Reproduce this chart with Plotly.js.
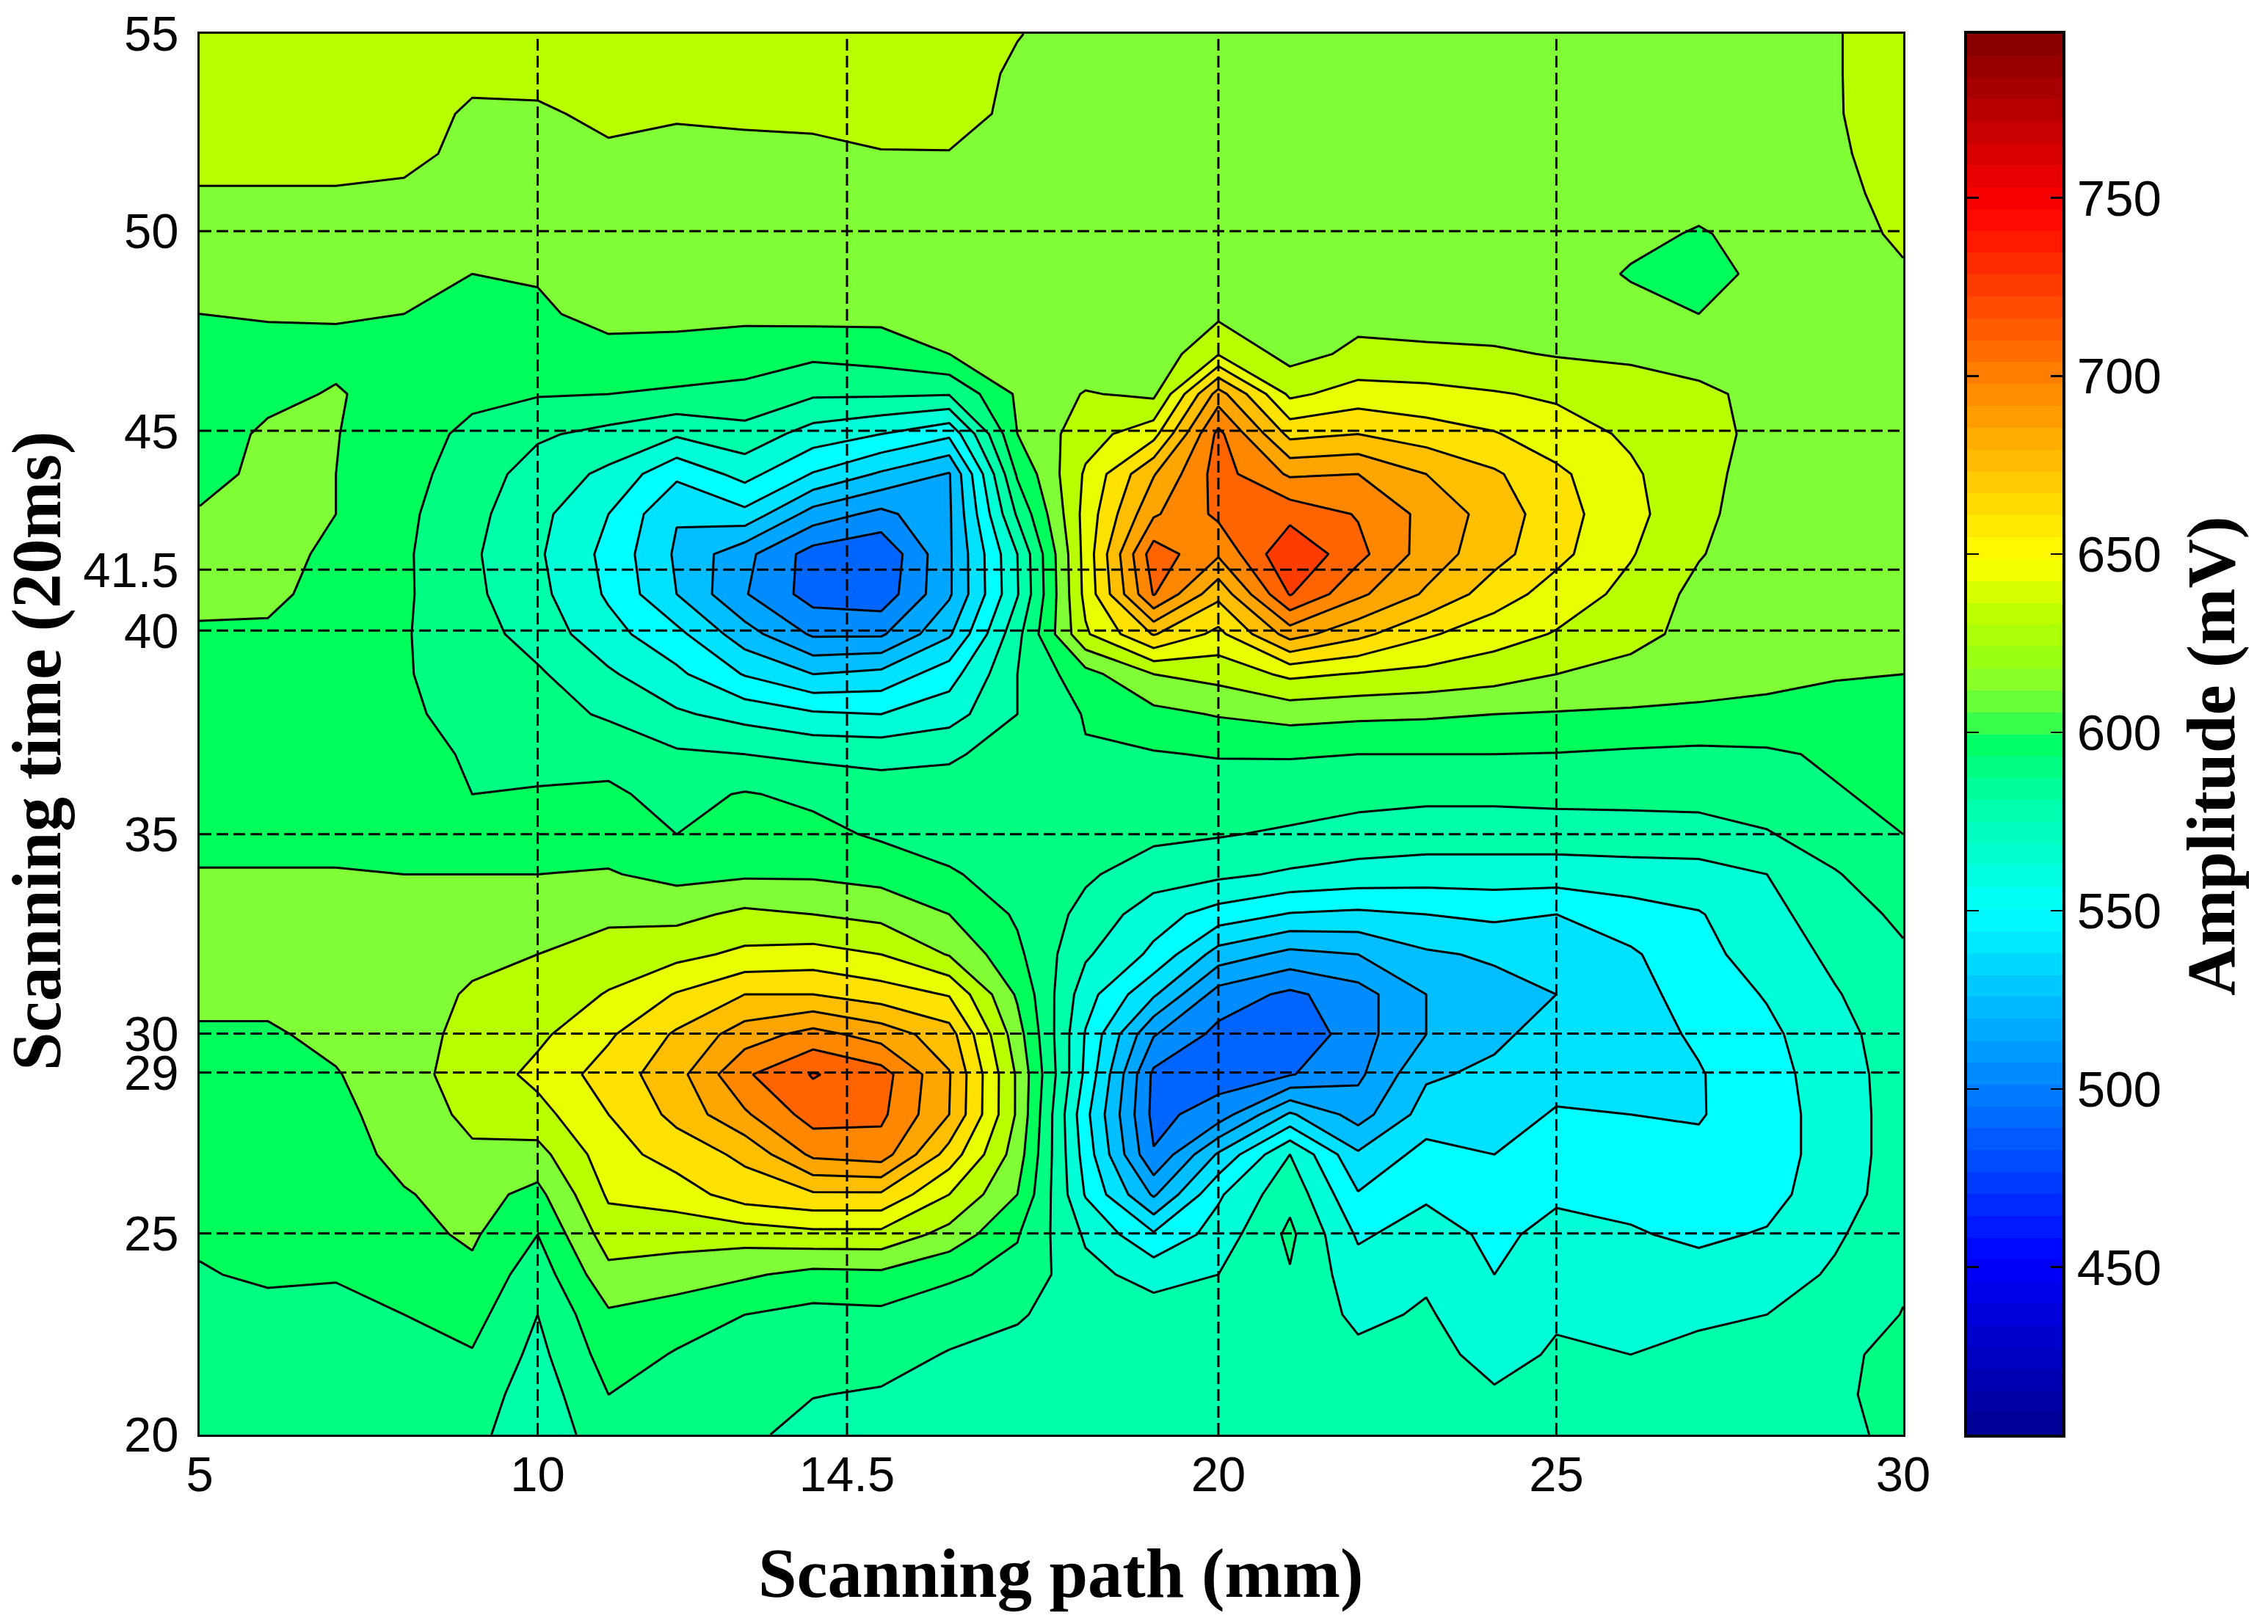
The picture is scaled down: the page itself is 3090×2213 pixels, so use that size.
<!DOCTYPE html>
<html>
<head>
<meta charset="utf-8">
<script src="https://cdn.plot.ly/plotly-3.0.1.min.js"></script>
<style>html,body{margin:0;padding:0;background:#fff}#plot{width:3090px;height:2213px}</style>
</head>
<body>
<div id="plot"></div>
<script>
// Scanning path (mm) and scanning time (20 ms) of the measured grid, as placed on the picture's axes
const scanningPath = [5,6,7,8,9,9.96,11,12,13,14,15,16,17,18,19,19.95,21,22,23,24,24.91,26,27,28,29,30];
const scanningTime = [20,21,22,23,24,25,26,27,28,29,30,31,32,33,34,35,36,37,38,39,40,41,42,43,44,45,46,47,48,49,50,51,52,53,54,55];

// Amplitude (mV): one list per scanning-path position, scanning time ascending
const amplitudeByPath = [
/* 5*/[586,586,588,590,593,596,597,599,601,603,606,612,615,612,609,603,602,602,603,604,606,612,612,609,604,602,601,604,608,611,614,621,626,628,629,630],
/* 6*/[586,586,587,590,596,597,598,600,602,604,606,612,615,613,609,603,601,602,603,604,606,611,613,612,611,610,605,604,609,611,614,621,626,628,629,630],
/* 7*/[585,586,587,590,595,597,600,602,604,607,612,614,615,612,609,603,601,601,601,601,602,603,605,608,608,608.5,609,605,609,611,614,621,626,628,629,630],
/* 8*/[586,588,591,594,600,604,607,612,615,618,618,618,616,612,608,602,598,597,595,595,595,596,596,597,599,600,603,606,608,610,613,620,625,628,629,630],
/* 9*/[585,588,593,599,605,610,613,620,625,627,625,623,620,614,608,600,594,593,592,588,586,583,582,584,587,591,597,601,604,608,611,616,619,620,625,628],
/*10*/[568,572,576,580,586,594,604,617,631,640,633,627,622,615,608,603,595,590,586,582,574,570,568,570,574,582,595,601,606,609,611,615,618,620,626,628],
/*11*/[590,594,600,606,618,629,638,644,650,656,648,637,628,619,609,602,596,590,578,568,557,550,548,552,563,576,594,604,612,611,613,616,620,625,627,629],
/*12*/[586,589,593,600,616,627,643,656,668,673,666,651,632,618,604,594,590,582,568,555,542,524,522,525,541,568,592,603,612,612,614,616,619,623,627,629],
/*13*/[583,586,589,594,610,628,657,667,690,704,685,664,639,625,606,600,595,580,561,537,516,497,500,534,557,575,590,601,611,612,614,616,619,624,627,629],
/*14*/[575,580.5,585,590,604,632,662,695,712,721,697,664,641,622,606,598,591,577,554,524,494,476,476,504,537,560,582,597,613,612,615,617,620,624,628,630],
/*15*/[572,578.5,586,591,605,632,662,699,709,712,686,657,636,618,603,592,586,576,552,528,494,473,470,492,522,552,582,600,612,612,614,616,621.5,626,629,630],
/*16*/[570,574,579,587,596,617,636,658,678,679,670,649,621,608,595,590,586,578,560,546,522,508,508,508,509,541,581,608,612,612,614,616,621.5,627,628,630],
/*17*/[574,575,577,581,590,595,608,615,620,620,614,606,597,592,590,590,589,586,580,580,576,565,566,582,596,608,610,611,611,612,613,614,617,619,620,622.5],
/*18*/[577,577,576,575,570,564,551,546,542,549,551,558,568,576,582,586,590,593,595,603,634,640,641,641,638,630,623,612,610,611,612,613,614,615,616,617],
/*19*/[578,576,574,572,561,540,508,483,478,479,497,526,549,558,573,583,587,593,604,622,665,707,714,690,677,645,619,612,610,612,612,613,614,615,615,616],
/*20*/[574,573,572,570,566,558,550,526,488,476,478,490,518,546,569,581,586,595,609,627,646,668,694,709,712,710,684,635,619,612,612,613,614,615,615,616],
/*21*/[573,574,575,576,579,583,576,566,526,481,470,479,506,537,564,578,587,595,613,639,684,721,733,715,690,660,633,617,612,612,612,613,614,615,615,616],
/*22*/[572,570,569,563,558,550,539,526,504,493,490,490,510,535,561,574,585,594,611,635,668,695,710,705,692,664,642,625,618,613,613,613,614,615,615,616],
/*23*/[572,570,569,567.5,564,558,550,543,530,522,510,510,522,538,559,573,583,594,610,632,652,676,686,688,678,657,640,625,615,613,613,613,614,615,615,615],
/*24*/[570,567,563,557,552,549,545,538,533,527,521,519,526,541,559,573,583,594,608,628,642,657,669,672,666,651,637,624,614,613,613,613,614,614,615,615],
/*25*/[572,569,567,565,560,556,550,544,539,534,530,524,531,538,559,573,584,593.5,607,622,635,644,654,656,653,642,634,621,613,614,613,613,614,614,615,615],
/*26*/[572,570,566,562,557,553,549,544,538,534,532,533,536,546,560,574,584,592,606,618,626,632,637,640,638,634,630,619,612,607,611,613,614,614,615,615],
/*27*/[573,572,569,564,556,550,547,541,537,537,540,544,548,551,561,574,585,591,605,615,618,618,623,626,627,627,625,616,608,601,607,612,614,614,615,615],
/*28*/[576,574,570,566,559,553,548,546,546,547,549,553,558,562,566,579,587,592,604,612,612,610,613,613,615,618,618,612,612,613,612,613,614,614,615,615],
/*29*/[578,578.5,577,571,568,564,559,558,558,559,561,565,569,573,579,587,593,596,603,609,610,609,610,610,611,612,612,612,612,615,615,618,620,621,621,621],
/*30*/[582,583,584,580.5,578,576,574,573,573,573,574,575,578,583,589,594,597,599,602,608,609,609,609,610,610,610,610,610,612,620,625,627,628,629,630,630]
];

// Tick labels and where the picture puts them
const pathTickLabels = ['5','10','14.5','20','25','30'];
const pathTicks = [5,9.96,14.5,19.95,24.91,30];
const timeTickLabels = ['20','25','29','30','35','40','41.5','45','50','55'];
const timeTicks = [20,25.03,29.05,30.02,35,40.09,41.61,45.08,50.07,55];
const pathGrid = [9.96,14.5,19.95,24.91];
const timeGrid = [25.03,29.05,30.02,35,40.09,41.61,45.08,50.07];
const amplitudeTicks = [450,500,550,600,650,700,750];

// Contour levels and the flat colour of each band, lowest band first
const levelStart = 482, levelEnd = 720, levelSize = 14;
const bandColors = [
 'rgb(0,100,255)','rgb(0,140,255)','rgb(0,165,255)','rgb(0,190,255)','rgb(0,225,255)',
 'rgb(0,255,255)','rgb(0,255,215)','rgb(0,255,170)','rgb(0,255,130)','rgb(0,255,90)',
 'rgb(128,255,55)','rgb(184,255,0)','rgb(232,255,0)','rgb(255,225,0)','rgb(255,190,0)',
 'rgb(255,165,0)','rgb(255,135,0)','rgb(255,100,0)','rgb(255,60,0)'
];

// Colour bar
const barMin = 403, barMax = 796, barSteps = 64;
const barStops  = [403,452,500,550,565,583,597,604,612,620,632,649,700,747,796];
const barColors = ['rgb(0,0,143)','rgb(0,0,255)','rgb(0,128,255)','rgb(0,255,255)','rgb(0,255,210)','rgb(0,255,160)','rgb(0,255,100)',
                   'rgb(70,255,70)','rgb(128,255,50)','rgb(150,255,20)','rgb(185,255,0)','rgb(255,255,0)','rgb(255,128,0)','rgb(255,0,0)','rgb(128,0,0)'];

const W = 3090, H = 2213;
const plotL = 272, plotR = 2593, plotT = 46, plotB = 1955, barL = 2680, barR = 2810;
const tickFont = {family:'"Liberation Sans", Arial, sans-serif', size:67, color:'#000'};
const barTickFont = {family:'"Liberation Sans", Arial, sans-serif', size:69, color:'#000'};
const titleFont = {family:'"Liberation Serif", "Times New Roman", serif', size:94.5, color:'#000'};
const barTitleFont = {family:'"Liberation Serif", "Times New Roman", serif', size:93, color:'#000'};

const bandScale = bandColors.map((c,i)=>[i/(bandColors.length-1), c]);
const barScale = barStops.map((v,i)=>[(v-barMin)/(barMax-barMin), barColors[i]]);
const barY = [], barZ = [];
for (let i=0;i<barSteps;i++){
  const v = barMin + (i+0.5)*(barMax-barMin)/barSteps;
  barY.push(v); barZ.push([v]);
}

const traces = [
 {type:'contour', x:scanningPath, y:scanningTime, z:amplitudeByPath, transpose:true,
  autocontour:false, contours:{start:levelStart,end:levelEnd,size:levelSize,coloring:'fill',showlines:true},
  colorscale:bandScale, showscale:false, line:{color:'#000',width:3,smoothing:0}, hoverinfo:'skip', xaxis:'x', yaxis:'y'},
 {type:'heatmap', x:[0], y:barY, z:barZ, zmin:barMin, zmax:barMax, colorscale:barScale, showscale:false,
  hoverinfo:'skip', xaxis:'x2', yaxis:'y2'}
];

const gridLine = {color:'#000', width:3, dash:'16px,7px'};
const shapes = [];
pathGrid.forEach(v=>shapes.push({type:'line',xref:'x',yref:'y',x0:v,x1:v,y0:20,y1:55,layer:'above',line:gridLine}));
timeGrid.forEach(v=>shapes.push({type:'line',xref:'x',yref:'y',x0:5,x1:30,y0:v,y1:v,layer:'above',line:gridLine}));

function paperTitle(text, cx, cy, angle, font){
  return {text:'<b>'+text+'</b>', xref:'paper', yref:'paper', x:cx/W, y:1-cy/H, xanchor:'center', yanchor:'middle',
          textangle:angle, showarrow:false, font:font};
}

const layout = {
 width:W, height:H, margin:{l:0,r:0,t:0,b:0,pad:0}, paper_bgcolor:'#fff', plot_bgcolor:'#fff', showlegend:false,
 xaxis:{domain:[plotL/W,plotR/W], range:[5,30], tickmode:'array', tickvals:pathTicks, ticktext:pathTickLabels,
  tickfont:tickFont, ticks:'', showgrid:false, zeroline:false, showline:true, linecolor:'#000', linewidth:3, mirror:true, anchor:'y',
  ticklabelstandoff:-6},
 yaxis:{domain:[(H-plotB)/H,(H-plotT)/H], range:[20,55], tickmode:'array', tickvals:timeTicks, ticktext:timeTickLabels,
  tickfont:tickFont, ticks:'', showgrid:false, zeroline:false, showline:true, linecolor:'#000', linewidth:3, mirror:true, anchor:'x',
  ticklabelstandoff:12},
 xaxis2:{domain:[barL/W,barR/W], range:[-0.5,0.5], showticklabels:false, ticks:'', showgrid:false, zeroline:false,
  showline:true, linecolor:'#000', linewidth:4, mirror:true, anchor:'y2'},
 yaxis2:{domain:[(H-plotB)/H,(H-plotT)/H], range:[barMin,barMax], side:'right', anchor:'x2', tickmode:'array', tickvals:amplitudeTicks,
  ticktext:amplitudeTicks.map(String), tickfont:barTickFont, ticks:'inside', ticklen:16, tickwidth:2.5, tickcolor:'#000',
  showgrid:false, zeroline:false, showline:true, linecolor:'#000', linewidth:4, mirror:'ticks', ticklabelstandoff:2},
 annotations:[
  paperTitle('Scanning path (mm)', 1445, 2144, 0, titleFont),
  paperTitle('Scanning time (20ms)', 51, 1023, -90, titleFont),
  paperTitle('Amplitude (mV)', 3012, 1030, -90, barTitleFont)
 ],
 shapes:shapes
};
Plotly.newPlot('plot', traces, layout, {displayModeBar:false, staticPlot:true});
</script>
</body>
</html>
